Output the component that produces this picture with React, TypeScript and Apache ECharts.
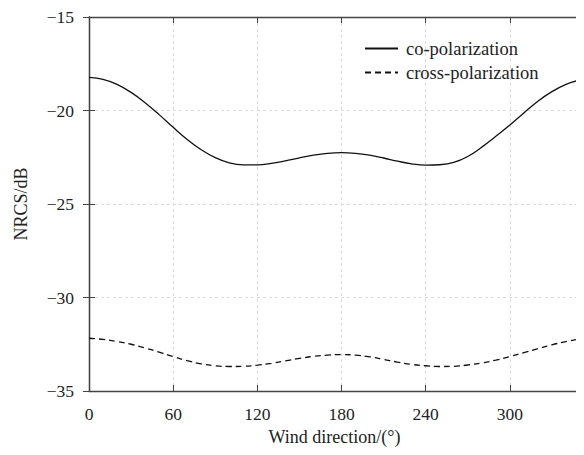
import React, { useEffect, useRef } from "react";
import * as echarts from "echarts";

const windDirection = [
  0, 10, 20, 30, 40, 50, 60, 70, 80, 90, 100, 110, 120, 130, 140, 150, 160, 170,
  180, 190, 200, 210, 220, 230, 240, 250, 260, 270, 280, 290, 300, 310, 320, 330, 340, 350,
];
const coPol = [
  -18.23, -18.33, -18.6, -19.03, -19.58, -20.22, -20.9, -21.55, -22.1, -22.52, -22.8, -22.91,
  -22.91, -22.83, -22.69, -22.53, -22.39, -22.29, -22.25, -22.29, -22.39, -22.54, -22.71, -22.85,
  -22.92, -22.9, -22.78, -22.46, -21.96, -21.38, -20.78, -20.13, -19.5, -18.99, -18.6, -18.37,
];
const crossPol = [
  -32.18, -32.24, -32.35, -32.5, -32.7, -32.92, -33.16, -33.38, -33.55, -33.65, -33.69, -33.68,
  -33.62, -33.52, -33.39, -33.26, -33.15, -33.08, -33.05, -33.08, -33.17, -33.31, -33.46, -33.58,
  -33.65, -33.69, -33.68, -33.61, -33.5, -33.35, -33.16, -32.95, -32.74, -32.53, -32.36, -32.21,
];
const seriesNames = ["co-polarization", "cross-polarization"];
const xTicks = [0, 60, 120, 180, 240, 300];
const yTicks = [-35, -30, -25, -20, -15];

const FONT = "'Liberation Serif', 'Times New Roman', serif";
const TEXT = "#222";
const AXIS = "#444";
const FS = 17.5;

export default function App() {
  const ref = useRef<HTMLDivElement>(null);
  useEffect(() => {
    if (!ref.current) return;
    const chart = echarts.init(ref.current, undefined, { renderer: "svg" });
    const fmtY = (v: number) => (yTicks.includes(v) ? String(v).replace("-", "\u2212") : "");
    const fmtX = (v: number) => (xTicks.includes(v) ? String(v) : "");
    const axisLineCommon = { show: true, lineStyle: { color: AXIS, width: 1.3 } };
    chart.setOption({
      animation: false,
      textStyle: { fontFamily: FONT, color: TEXT },
      grid: { left: 89, right: 4, top: 17, bottom: 64, containLabel: false },
      legend: {
        orient: "vertical",
        left: 359,
        top: 34,
        itemWidth: 33,
        itemHeight: 14,
        itemGap: 5,
        itemStyle: { opacity: 0 },
        textStyle: { fontFamily: FONT, fontSize: 18.5, color: TEXT, padding: [0, 0, 0, 3] },
        data: seriesNames,
      },
      xAxis: [
        {
          type: "value",
          min: 0,
          max: 350,
          interval: 60,
          name: "Wind direction/(\u00b0)",
          nameLocation: "middle",
          nameGap: 36,
          nameTextStyle: { fontFamily: FONT, fontSize: 18, color: TEXT },
          axisLine: axisLineCommon,
          axisTick: { show: true, inside: true, length: 6, lineStyle: { color: AXIS } },
          axisLabel: { fontFamily: FONT, fontSize: FS, color: TEXT, margin: 14, formatter: fmtX, showMaxLabel: false },
          splitLine: { show: true, lineStyle: { color: "#dcdcdc", type: [3, 3], width: 1 } },
        },
        {
          type: "value",
          position: "top",
          min: 0,
          max: 350,
          interval: 60,
          axisLine: axisLineCommon,
          axisTick: { show: true, inside: true, length: 6, lineStyle: { color: AXIS } },
          axisLabel: { show: false },
          splitLine: { show: false },
        },
      ],
      yAxis: [
        {
          type: "value",
          min: -35,
          max: -15,
          interval: 5,
          name: "NRCS/dB",
          nameLocation: "middle",
          nameGap: 59,
          nameTextStyle: { fontFamily: FONT, fontSize: 18, color: TEXT },
          axisLine: axisLineCommon,
          axisTick: { show: true, inside: true, length: 6, lineStyle: { color: AXIS } },
          axisLabel: { fontFamily: FONT, fontSize: FS, color: TEXT, margin: 15, formatter: fmtY },
          splitLine: { show: true, lineStyle: { color: "#dcdcdc", type: [3, 3], width: 1 } },
        },
        {
          type: "value",
          position: "right",
          min: -35,
          max: -15,
          interval: 5,
          axisLine: axisLineCommon,
          axisTick: { show: true, inside: true, length: 6, lineStyle: { color: AXIS } },
          axisLabel: { show: false },
          splitLine: { show: false },
        },
      ],
      series: [
        {
          name: seriesNames[0],
          type: "line",
          data: windDirection.map((d, i) => [d, coPol[i]]),
          symbol: "none",
          smooth: 0.4,
          lineStyle: { color: "#111", width: 1.3, type: "solid" },
          itemStyle: { color: "#111" },
        },
        {
          name: seriesNames[1],
          type: "line",
          data: windDirection.map((d, i) => [d, crossPol[i]]),
          symbol: "none",
          smooth: 0.4,
          lineStyle: { color: "#111", width: 1.3, type: [6, 4] },
          itemStyle: { color: "#111" },
        },
      ],
    });
    return () => chart.dispose();
  }, []);
  return <div ref={ref} style={{ width: 584, height: 455, margin: -8 }} />;
}
